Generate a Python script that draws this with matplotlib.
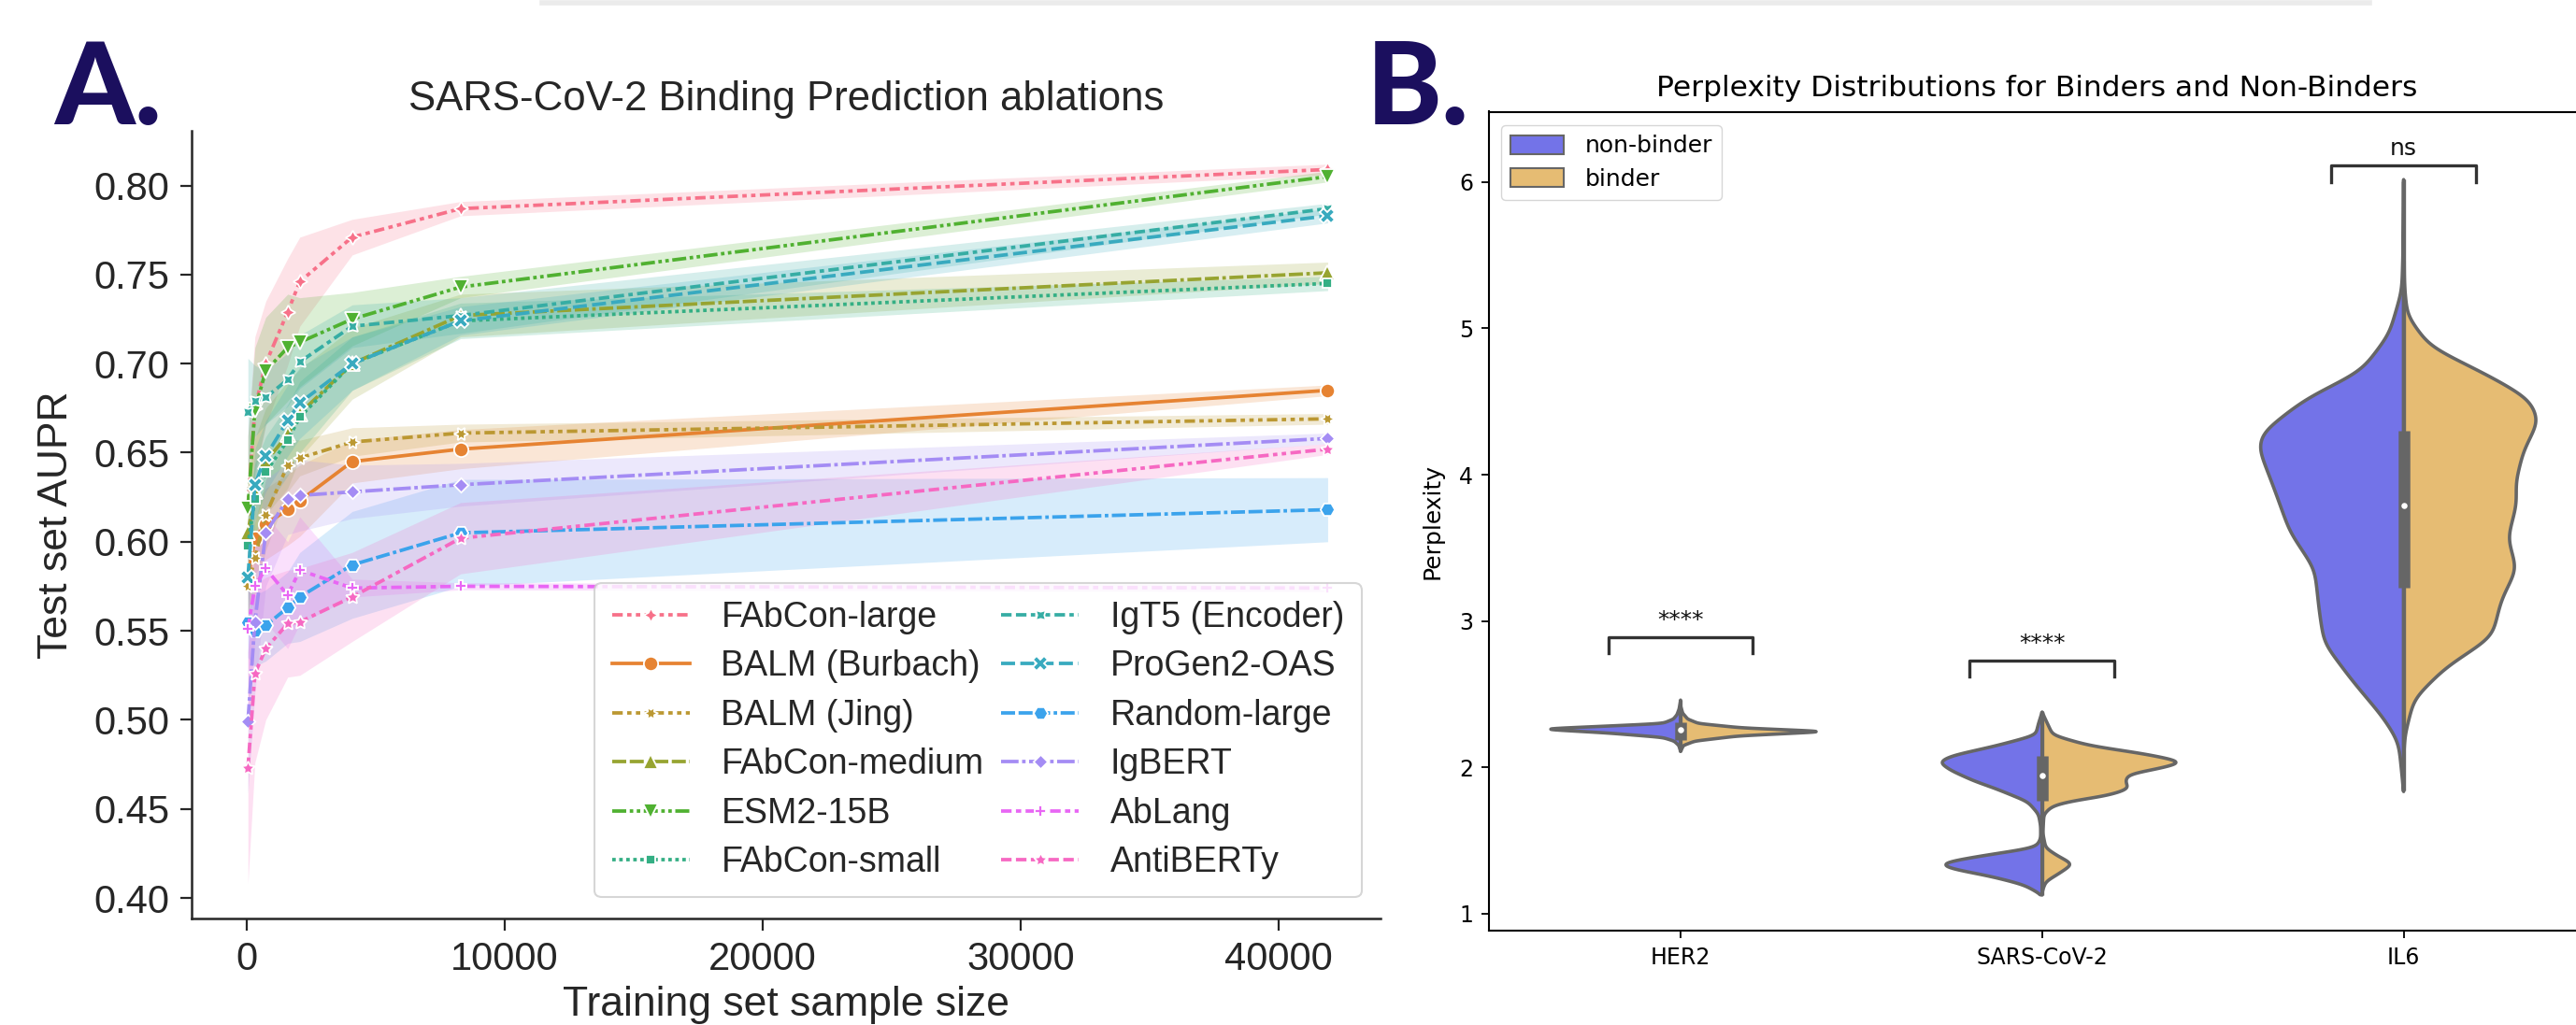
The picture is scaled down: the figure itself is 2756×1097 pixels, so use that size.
import numpy as np
import matplotlib
matplotlib.use("Agg")
import matplotlib.pyplot as plt
import seaborn as sns
from matplotlib.lines import Line2D
from matplotlib.patches import Patch

# ---------------- panel A data ----------------
sample_sizes = [60, 330, 750, 1600, 2070, 4100, 8300, 41900]

model_names = ["FAbCon-large", "BALM (Burbach)", "BALM (Jing)", "FAbCon-medium",
               "ESM2-15B", "FAbCon-small", "IgT5 (Encoder)", "ProGen2-OAS",
               "Random-large", "IgBERT", "AbLang", "AntiBERTy"]

fabcon_large = [0.620, 0.675, 0.700, 0.729, 0.746, 0.771, 0.787, 0.809]
balm_burbach = [0.580, 0.602, 0.610, 0.618, 0.623, 0.645, 0.652, 0.685]
balm_jing = [0.575, 0.591, 0.615, 0.643, 0.647, 0.656, 0.661, 0.669]
fabcon_medium = [0.605, 0.628, 0.645, 0.660, 0.672, 0.700, 0.727, 0.751]
esm2_15b = [0.619, 0.674, 0.696, 0.709, 0.712, 0.725, 0.743, 0.805]
fabcon_small = [0.598, 0.624, 0.639, 0.657, 0.670, 0.700, 0.724, 0.745]
igt5 = [0.673, 0.679, 0.681, 0.691, 0.701, 0.721, 0.727, 0.787]
progen2_oas = [0.580, 0.632, 0.648, 0.668, 0.678, 0.700, 0.724, 0.783]
random_large = [0.555, 0.550, 0.553, 0.563, 0.569, 0.587, 0.605, 0.618]
igbert = [0.499, 0.555, 0.605, 0.624, 0.626, 0.628, 0.632, 0.658]
ablang = [0.551, 0.575, 0.585, 0.570, 0.584, 0.574, 0.575, 0.574]
antiberty = [0.473, 0.526, 0.540, 0.554, 0.555, 0.569, 0.602, 0.652]

# half widths of the shaded confidence bands
fabcon_large_ci = [0.040, 0.040, 0.035, 0.030, 0.025, 0.010, 0.004, 0.003]
balm_burbach_ci = [0.020, 0.020, 0.020, 0.020, 0.020, 0.012, 0.011, 0.003]
balm_jing_ci = [0.020, 0.020, 0.020, 0.015, 0.010, 0.008, 0.005, 0.003]
fabcon_medium_ci = [0.030, 0.030, 0.030, 0.030, 0.025, 0.020, 0.012, 0.006]
esm2_15b_ci = [0.040, 0.035, 0.030, 0.030, 0.025, 0.015, 0.006, 0.003]
fabcon_small_ci = [0.020, 0.020, 0.020, 0.020, 0.020, 0.015, 0.010, 0.004]
igt5_ci = [0.030, 0.020, 0.015, 0.015, 0.015, 0.012, 0.010, 0.003]
progen2_oas_ci = [0.020, 0.020, 0.020, 0.020, 0.020, 0.015, 0.008, 0.004]
random_large_ci = [0.020, 0.020, 0.020, 0.020, 0.025, 0.030, 0.030, 0.018]
igbert_ci = [0.040, 0.040, 0.030, 0.020, 0.020, 0.015, 0.012, 0.003]
ablang_ci = [0.050, 0.030, 0.030, 0.030, 0.030, 0.005, 0.002, 0.002]
antiberty_ci = [0.065, 0.050, 0.040, 0.030, 0.030, 0.025, 0.020, 0.003]

series = [fabcon_large, balm_burbach, balm_jing, fabcon_medium, esm2_15b, fabcon_small,
          igt5, progen2_oas, random_large, igbert, ablang, antiberty]
series_ci = [fabcon_large_ci, balm_burbach_ci, balm_jing_ci, fabcon_medium_ci, esm2_15b_ci,
             fabcon_small_ci, igt5_ci, progen2_oas_ci, random_large_ci, igbert_ci,
             ablang_ci, antiberty_ci]

# ---------------- panel B data (violin outlines) ----------------
targets = ["HER2", "SARS-CoV-2", "IL6"]
hue_names = ["non-binder", "binder"]

# perplexity levels and half-widths (category units) of each half violin
her2_nb_y = [2.11, 2.15, 2.18, 2.205, 2.235, 2.262, 2.285, 2.30, 2.33, 2.36, 2.40, 2.46]
her2_nb_w = [0.0, 0.005, 0.018, 0.05, 0.20, 0.39, 0.18, 0.05, 0.02, 0.01, 0.004, 0.0]
her2_b_y = [2.11, 2.15, 2.18, 2.215, 2.245, 2.27, 2.30, 2.33, 2.37, 2.42]
her2_b_w = [0.0, 0.008, 0.04, 0.16, 0.405, 0.17, 0.05, 0.02, 0.006, 0.0]

sars_nb_y = [1.128, 1.198, 1.255, 1.312, 1.345, 1.395, 1.452, 1.511, 1.60, 1.681, 1.766,
             1.852, 1.908, 1.98, 2.036, 2.078, 2.149, 2.22, 2.30, 2.377]
sars_nb_w = [0.0, 0.05, 0.14, 0.26, 0.283, 0.17, 0.018, 0.004, 0.004, 0.01, 0.04,
             0.125, 0.189, 0.253, 0.285, 0.253, 0.125, 0.018, 0.01, 0.0]
sars_b_y = [1.15, 1.22, 1.28, 1.34, 1.40, 1.45, 1.55, 1.681, 1.74, 1.78, 1.80, 1.852,
            1.908, 1.955, 1.99, 2.036, 2.09, 2.149, 2.22, 2.377]
sars_b_w = [0.0, 0.01, 0.05, 0.085, 0.04, 0.01, 0.002, 0.005, 0.03, 0.10, 0.17, 0.24,
            0.23, 0.24, 0.32, 0.394, 0.29, 0.13, 0.03, 0.0]

il6_nb_y = [1.835, 2.175, 2.342, 2.595, 2.849, 3.06, 3.355, 3.61, 3.904, 4.179, 4.285,
            4.517, 4.707, 4.96, 5.256, 5.5, 6.016]
il6_nb_w = [0.0, 0.014, 0.057, 0.143, 0.22, 0.233, 0.246, 0.315, 0.358, 0.401, 0.393,
            0.272, 0.117, 0.04, 0.005, 0.002, 0.0]
il6_b_y = [2.046, 2.215, 2.469, 2.68, 2.891, 3.143, 3.355, 3.566, 3.799, 3.947, 4.158,
           4.369, 4.517, 4.664, 4.876, 5.087, 5.3, 6.0]
il6_b_w = [0.0, 0.003, 0.029, 0.115, 0.245, 0.27, 0.313, 0.288, 0.313, 0.31, 0.331,
           0.374, 0.348, 0.245, 0.072, 0.01, 0.002, 0.0]

# inner box: whisker low, q1, median, q3, whisker high
box_low = [2.11, 1.13, 1.84]
box_q1 = [2.19, 1.77, 3.23]
box_med = [2.255, 1.944, 3.79]
box_q3 = [2.31, 2.08, 4.30]
box_high = [2.46, 2.38, 6.02]

sig_labels = ["****", "****", "ns"]
sig_heights = [2.89, 2.73, 6.11]

# ---------------- figure ----------------
W, H = 2756, 1097
fig = plt.figure(figsize=(W / 100, H / 100), dpi=100)
plt.rcParams['font.family'] = ['Liberation Sans', 'DejaVu Sans']

def fx(px):
    return px / W

def fy(py):
    return 1 - py / H

# top shadow bar
fig.add_artist(Line2D([fx(580), fx(2535)], [fy(3), fy(3)], color='#ebebeb', lw=4))

# ---------------- panel A ----------------
axA = fig.add_axes([fx(205), fy(983), fx(1477) - fx(205), fy(140) - fy(983)])
pal = sns.color_palette("husl", 12)
styles = [
    ((4, 1, 0), (3, 1.25, 1.25, 1.25, 1.25, 1.25)),
    ('o', None),
    ((6, 1, 30), (3, 1.25, 1.25, 1.25, 1.25, 1.25, 1.25, 1.25)),
    ('^', (4, 1, 4, 1, 1, 1)),
    ('v', (4, 1, 1, 1, 1, 1)),
    ((4, 0, 45), (1, 1)),
    ((4, 1, 45), (3, 1.25, 3, 1.25, 1.25, 1.25)),
    ('X', (4, 1.5)),
    ((6, 0, 30), (4, 1, 4, 1, 4, 1, 1, 1)),
    ((4, 0, 0), (5, 1, 1, 1)),
    ('P', (3, 1.25, 1.5, 1.25)),
    ((5, 1, 0), (3, 1.25, 3, 1.25, 1.25, 1.25, 1.25, 1.25)),
]
xs = np.array(sample_sizes)
for name, vals, ci, col, (mk, ds) in zip(model_names, series, series_ci, pal, styles):
    v = np.array(vals)
    h = np.array(ci)
    axA.fill_between(xs, v - h, v + h, color=col, alpha=0.2, lw=0)
    ms = 9 if mk == 'P' else 11
    ln, = axA.plot(xs, v, color=col, lw=2.7, marker=mk, ms=ms, mec='white', mew=1.3,
                   label=name)
    if ds is not None:
        ln.set_dashes(ds)

axA.set_xlim(-2122, 43948)
axA.set_ylim(0.3885, 0.8307)
axA.set_yticks(np.arange(0.40, 0.801, 0.05))
axA.set_yticklabels([f"{t:.2f}" for t in np.arange(0.40, 0.801, 0.05)])
axA.set_xticks([0, 10000, 20000, 30000, 40000])
axA.tick_params(labelsize=30, length=9, width=1.6, pad=8, color='#262626', labelcolor='#262626')
for s in ['top', 'right']:
    axA.spines[s].set_visible(False)
for s in ['left', 'bottom']:
    axA.spines[s].set_linewidth(1.8)
    axA.spines[s].set_color('#262626')
axA.set_xlabel("Training set sample size", fontsize=32, labelpad=6, color='#262626')
axA.set_ylabel("Test set AUPR", fontsize=32, labelpad=14, color='#262626')
axA.set_title("SARS-CoV-2 Binding Prediction ablations", fontsize=31.5, pad=16, color='#262626')
legA = axA.legend(ncol=2, loc='lower right', bbox_to_anchor=(0.984, 0.027), borderaxespad=0,
                  fontsize=27, labelspacing=0.44, columnspacing=0.5, handlelength=2.2,
                  handletextpad=0.9, borderpad=0.5, frameon=True, fancybox=True)
legA.get_frame().set_edgecolor('#cccccc')
legA.get_frame().set_linewidth(1.5)
for t in legA.get_texts():
    t.set_color('#262626')

# ---------------- panel B ----------------
axB = fig.add_axes([fx(1593), fy(996), fx(2765) - fx(1593), fy(119.5) - fy(996)])
c_nb = '#7373e8'
c_b = '#e6bc73'
edge = '#666666'

def smooth_profile(ys, ws, n=500, k=7):
    yy = np.linspace(ys[0], ys[-1], n)
    ww = np.interp(yy, ys, ws)
    ker = np.exp(-0.5 * (np.arange(-3 * k, 3 * k + 1) / k) ** 2)
    ker /= ker.sum()
    ww = np.convolve(np.pad(ww, 3 * k, mode='edge'), ker, mode='valid')
    ww[0] = 0
    ww[-1] = 0
    return yy, ww

halves = [
    (0, -1, her2_nb_y, her2_nb_w, c_nb), (0, 1, her2_b_y, her2_b_w, c_b),
    (1, -1, sars_nb_y, sars_nb_w, c_nb), (1, 1, sars_b_y, sars_b_w, c_b),
    (2, -1, il6_nb_y, il6_nb_w, c_nb), (2, 1, il6_b_y, il6_b_w, c_b),
]
for pos, side, ys, ws, col in halves:
    yy, ww = smooth_profile(ys, ws)
    px = np.concatenate([pos + side * ww, [pos, pos]])
    py = np.concatenate([yy, [yy[-1], yy[0]]])
    axB.fill(px, py, facecolor=col, edgecolor=edge, lw=2.6, joinstyle='round', zorder=2)

for i in range(len(targets)):
    axB.plot([i, i], [box_low[i], box_high[i]], color=edge, lw=2.4, solid_capstyle='butt', zorder=3)
    axB.plot([i, i], [box_q1[i], box_q3[i]], color=edge, lw=9, solid_capstyle='butt', zorder=3)
    axB.scatter([i], [box_med[i]], s=22, color='white', zorder=4, lw=0)

for i, (lab, hgt) in enumerate(zip(sig_labels, sig_heights)):
    axB.plot([i - 0.2, i - 0.2, i + 0.2, i + 0.2], [hgt - 0.11, hgt, hgt, hgt - 0.11],
             color='#333333', lw=2.4, zorder=3)
    axB.text(i, hgt + 0.04, lab, ha='center', va='bottom', fontsize=18, family='DejaVu Sans',
             color='#111111')

axB.set_xlim(-0.53, 2.5)
axB.set_ylim(0.885, 6.48)
axB.set_xticks(range(len(targets)))
axB.set_xticklabels(targets)
axB.set_yticks([1, 2, 3, 4, 5, 6])
axB.tick_params(labelsize=17, length=6, width=1.3, pad=6)
for t in axB.get_xticklabels() + axB.get_yticklabels():
    t.set_fontfamily('DejaVu Sans')
for s in axB.spines.values():
    s.set_linewidth(1.5)
axB.set_ylabel("Perplexity", fontsize=18, family='DejaVu Sans', labelpad=12)
axB.set_title("Perplexity Distributions for Binders and Non-Binders", fontsize=22.5,
              family='DejaVu Sans', pad=12)
handles = [Patch(facecolor=c_nb, edgecolor=edge, lw=1.5), Patch(facecolor=c_b, edgecolor=edge, lw=1.5)]
legB = axB.legend(handles, hue_names, loc='upper left', bbox_to_anchor=(0.011, 0.983),
                  borderaxespad=0, prop={'family': 'DejaVu Sans', 'size': 18},
                  handlelength=2.3, handleheight=0.85, handletextpad=0.9, labelspacing=0.45)
legB.get_frame().set_edgecolor('#cccccc')

# ---------------- panel letters ----------------
for px_, lab in [(58, "A."), (1462, "B.")]:
    fig.text(fx(px_), fy(133), lab, fontsize=88, fontweight='black', family=['Lato', 'DejaVu Sans'],
             color='#1b0f5e', ha='left', va='baseline')

fig.savefig("out.png", dpi=100)
